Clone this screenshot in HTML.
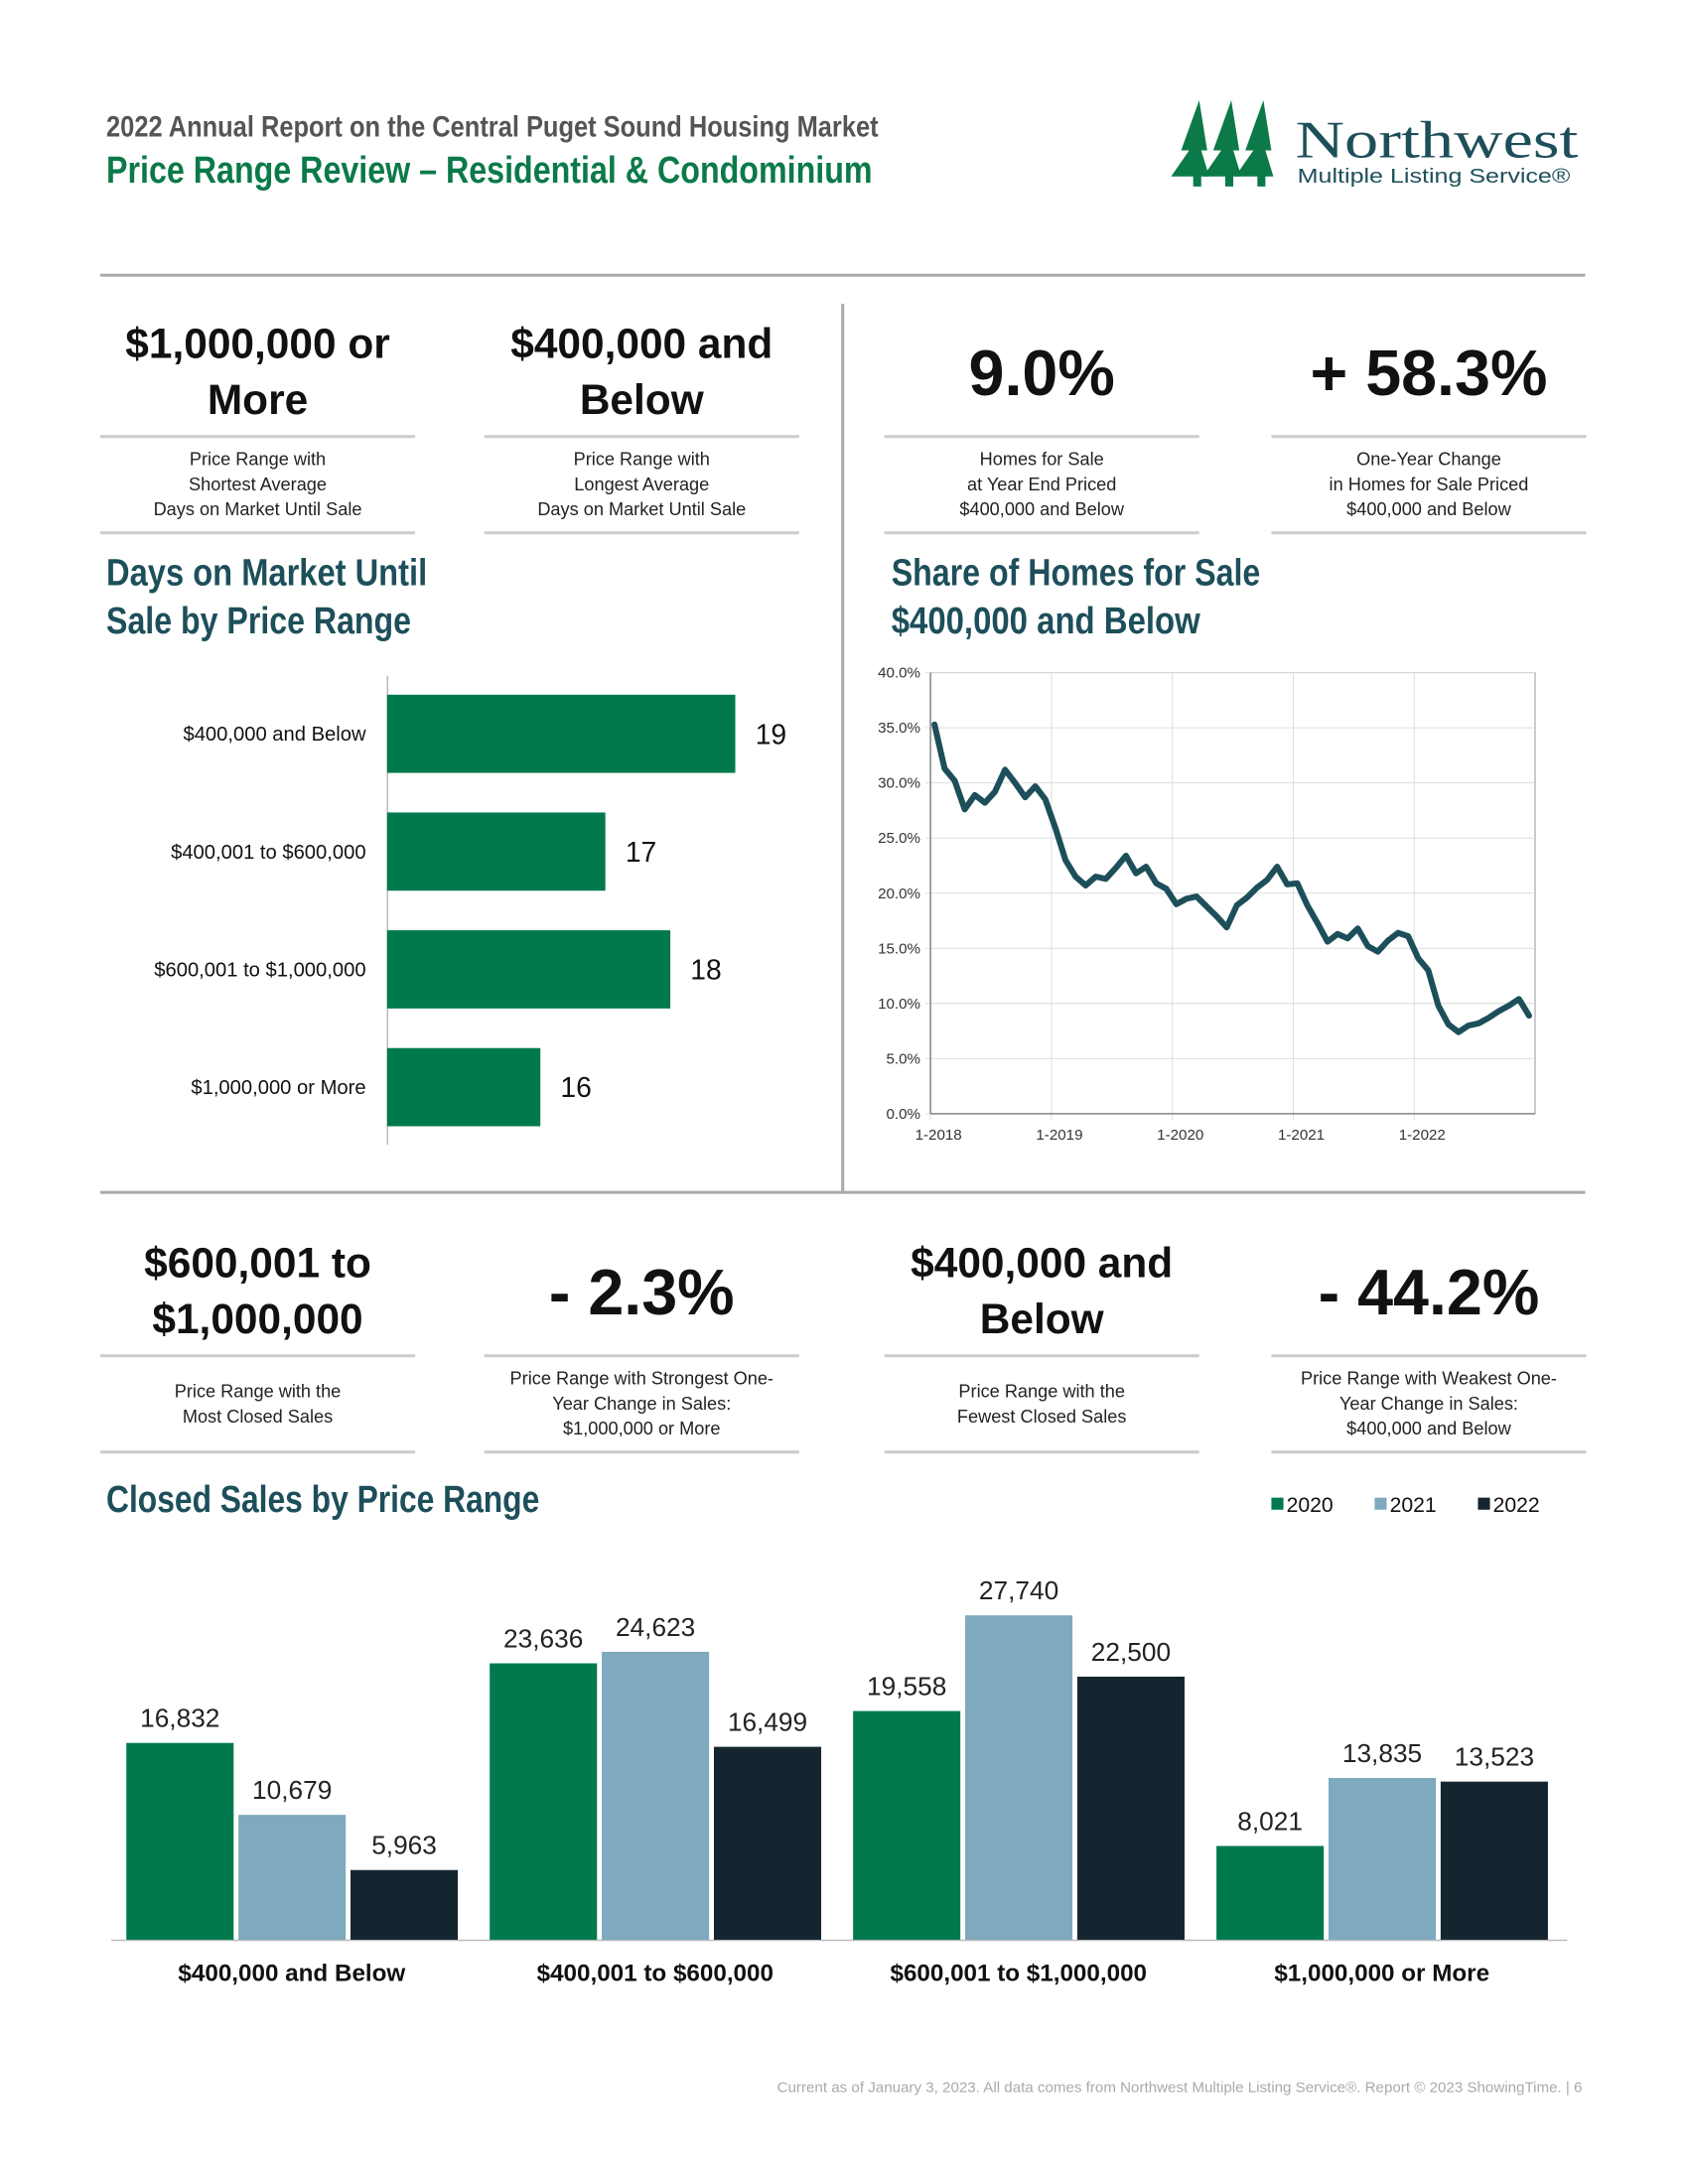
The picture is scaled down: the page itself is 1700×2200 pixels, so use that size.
<!DOCTYPE html>
<html><head><meta charset="utf-8"><style>
body{margin:0;background:#fff}
svg{display:block}
text{font-family:"Liberation Sans",sans-serif}
</style></head><body>
<svg id="page" width="1700" height="2200" viewBox="0 0 1700 2200" xmlns="http://www.w3.org/2000/svg">
<rect width="1700" height="2200" fill="#fff"/>
<g transform="scale(1.0098)">
<!-- header -->
<text x="106" y="136" font-size="29" font-weight="bold" fill="#555" textLength="770" lengthAdjust="spacingAndGlyphs">2022 Annual Report on the Central Puget Sound Housing Market</text>
<text x="106" y="182" font-size="38" font-weight="bold" fill="#0b7a48" textLength="764" lengthAdjust="spacingAndGlyphs">Price Range Review – Residential &amp; Condominium</text>
<g>
 <g fill="#0b7a48">
  <polygon points="1196,100 1178,150 1186,150 1168,176 1190,176 1190,186 1198,186 1198,176 1206,176 1198,150 1204,150"/>
  <polygon points="1228,100 1210,150 1218,150 1200,176 1222,176 1222,186 1230,186 1230,176 1238,176 1230,150 1236,150"/>
  <polygon points="1260,100 1242,150 1250,150 1232,176 1254,176 1254,186 1262,186 1262,176 1270,176 1262,150 1268,150"/>
 </g>
 <text x="1292" y="157" style="font-family:'Liberation Serif',serif" font-size="52" fill="#1d4f5a" textLength="282" lengthAdjust="spacingAndGlyphs">Northwest</text>
 <text x="1294" y="182" font-size="20" fill="#1d4f5a" textLength="272" lengthAdjust="spacingAndGlyphs">Multiple Listing Service®</text>
</g>
<rect x="100" y="273" width="1481" height="3" fill="#aaa"/>
<rect x="839" y="303" width="3" height="886" fill="#aaa"/>
<rect x="100" y="1188" width="1481" height="3" fill="#aaa"/>
<g id="stats"></g>
<!-- section titles -->
<text x="106" y="584" font-size="38" font-weight="bold" fill="#1d4f5a" textLength="320" lengthAdjust="spacingAndGlyphs">Days on Market Until</text>
<text x="106" y="632" font-size="38" font-weight="bold" fill="#1d4f5a" textLength="304" lengthAdjust="spacingAndGlyphs">Sale by Price Range</text>
<text x="889" y="584" font-size="38" font-weight="bold" fill="#1d4f5a" textLength="368" lengthAdjust="spacingAndGlyphs">Share of Homes for Sale</text>
<text x="889" y="632" font-size="38" font-weight="bold" fill="#1d4f5a" textLength="308" lengthAdjust="spacingAndGlyphs">$400,000 and Below</text>
<text x="106" y="1508" font-size="38" font-weight="bold" fill="#1d4f5a" textLength="432" lengthAdjust="spacingAndGlyphs">Closed Sales by Price Range</text>
<g id="dom"></g>
<g id="share"></g>
<g id="sales"></g>
<text x="1578" y="2087" font-size="15" fill="#aaa" text-anchor="end">Current as of January 3, 2023. All data comes from Northwest Multiple Listing Service®. Report © 2023 ShowingTime.  |  6</text>
</g>
</svg>
<script>
// ---- data ----
const domCategories = ["$400,000 and Below","$400,001 to $600,000","$600,001 to $1,000,000","$1,000,000 or More"];
const domValues = [19,17,18,16];
const shareTickLabels = ["0.0%","5.0%","10.0%","15.0%","20.0%","25.0%","30.0%","35.0%","40.0%"];
const shareYearLabels = ["1-2018","1-2019","1-2020","1-2021","1-2022"];
const shareValues = [35.3,31.3,30.2,27.6,28.9,28.2,29.2,31.2,30.0,28.7,29.7,28.5,25.9,23.0,21.5,20.7,21.5,21.3,22.3,23.4,21.8,22.4,20.9,20.4,19.0,19.5,19.7,18.8,17.9,16.9,18.9,19.6,20.5,21.2,22.4,20.8,20.9,18.9,17.3,15.6,16.3,15.9,16.8,15.2,14.7,15.7,16.4,16.1,14.1,13.0,9.8,8.1,7.4,8.0,8.2,8.7,9.3,9.8,10.4,8.9];
const salesCategories = ["$400,000 and Below","$400,001 to $600,000","$600,001 to $1,000,000","$1,000,000 or More"];
const salesYears = ["2020","2021","2022"];
const sales2020 = [16832,23636,19558,8021];
const sales2021 = [10679,24623,27740,13835];
const sales2022 = [5963,16499,22500,13523];

const NS="http://www.w3.org/2000/svg";
function mk(parent,tag,attrs,txt){const e=document.createElementNS(NS,tag);for(const k in attrs)e.setAttribute(k,attrs[k]);if(txt!==undefined)e.textContent=txt;parent.appendChild(e);return e;}

// ---- stat boxes ----
const stats=document.getElementById('stats');
const statBoxes=[
 {cx:257,y0:275,big:["$1,000,000 or","More"],small:["Price Range with","Shortest Average","Days on Market Until Sale"]},
 {cx:640,y0:275,big:["$400,000 and","Below"],small:["Price Range with","Longest Average","Days on Market Until Sale"]},
 {cx:1039,y0:275,big:["9.0%"],small:["Homes for Sale","at Year End Priced","$400,000 and Below"]},
 {cx:1425,y0:275,big:["+ 58.3%"],small:["One-Year Change","in Homes for Sale Priced","$400,000 and Below"]},
 {cx:257,y0:1192,big:["$600,001 to","$1,000,000"],small:["Price Range with the","Most Closed Sales"]},
 {cx:640,y0:1192,big:["- 2.3%"],small:["Price Range with Strongest One-","Year Change in Sales:","$1,000,000 or More"]},
 {cx:1039,y0:1192,big:["$400,000 and","Below"],small:["Price Range with the","Fewest Closed Sales"]},
 {cx:1425,y0:1192,big:["- 44.2%"],small:["Price Range with Weakest One-","Year Change in Sales:","$400,000 and Below"]}
];
statBoxes.forEach((b,i)=>{
 const g=mk(stats,'g',{});
 
 
 const base=b.y0===275?0:917;
 mk(g,'rect',{x:b.cx-157,y:434+base,width:314,height:3,fill:'#ccc'});
 mk(g,'rect',{x:b.cx-157,y:530+base,width:314,height:3,fill:'#ccc'});
 if(b.big.length===2){
  mk(g,'text',{x:b.cx,y:357+base,'font-size':42,'font-weight':'bold','text-anchor':'middle',fill:'#111'},b.big[0]);
  mk(g,'text',{x:b.cx,y:413+base,'font-size':42,'font-weight':'bold','text-anchor':'middle',fill:'#111'},b.big[1]);
 } else {
  mk(g,'text',{x:b.cx,y:394+base,'font-size':64,'font-weight':'bold','text-anchor':'middle',fill:'#111'},b.big[0]);
 }
 const n=b.small.length;const sy=(n===3?464:477)+base;
 b.small.forEach((s,j)=>mk(g,'text',{x:b.cx,y:sy+j*25,'font-size':18,'text-anchor':'middle',fill:'#222'},s));
});

// ---- days on market bar chart ----
const dom=document.getElementById('dom');
const domX0=386, domMin=13.64, domPx=64.8;
const domX=v=>domX0+(v-domMin)*domPx;
mk(dom,'line',{x1:386.5,y1:674,x2:386.5,y2:1142,stroke:'#bbb','stroke-width':1.5});
domValues.forEach((v,i)=>{
 const y=693+i*117.5;
 const r=mk(dom,'rect',{x:domX0,y:y,width:domX(v)-domX0,height:78,fill:'#007a4d'});
 
 
 mk(dom,'text',{x:domX(v)+20,y:y+49,'font-size':28,fill:'#111'},String(v));
 const t=mk(dom,'text',{x:365,y:y+46,'font-size':20,'text-anchor':'end',fill:'#111'},domCategories[i]);
 
 
});

// ---- share line chart ----
const sh=document.getElementById('share');
const pL=928,pR=1531,pT=671,pB=1111;
const sx=m=>pL+(pR-pL)*m/60;
const sy=v=>pB-(pB-pT)*v/40;
mk(sh,'rect',{x:pL,y:pT,width:pR-pL,height:pB-pT,fill:'#fff',stroke:'#999','stroke-width':1});
shareTickLabels.forEach((l,i)=>{
 const v=i*5;
 mk(sh,'line',{x1:pL-5,x2:pR,y1:sy(v),y2:sy(v),stroke:'#ddd','stroke-width':1});
 mk(sh,'text',{x:918,y:sy(v)+5,'font-size':15,'text-anchor':'end',fill:'#333'},l);
});
shareYearLabels.forEach((l,i)=>{
 const x=sx(i*12);
 mk(sh,'line',{x1:x,x2:x,y1:pT,y2:pB+6,stroke:'#ddd','stroke-width':1});
 mk(sh,'text',{x:x+8,y:1137,'font-size':15,'text-anchor':'middle',fill:'#333'},l);
});
mk(sh,'line',{x1:pL,x2:pR,y1:pB,y2:pB,stroke:'#888','stroke-width':1.5});
mk(sh,'line',{x1:pL,x2:pL,y1:pT,y2:pB,stroke:'#888','stroke-width':1.5});
const pts=shareValues.map((v,i)=>sx(i+0.4)+','+sy(v)).join(' ');
const pl=mk(sh,'polyline',{points:pts,fill:'none',stroke:'#1d4f5a','stroke-width':6,'stroke-linejoin':'round','stroke-linecap':'round'});



// ---- closed sales grouped bars ----
const sa=document.getElementById('sales');
const base=1935, vs=323.6/27740;
const bh=v=>v*vs;
const colors=['#007a4d','#7ea9be','#14252f'];
const series=[sales2020,sales2021,sales2022];
mk(sa,'line',{x1:111,x2:1563,y1:base+0.5,y2:base+0.5,stroke:'#bbb','stroke-width':1.5});
salesCategories.forEach((c,g)=>{
 const gx=126+g*362.4;
 series.forEach((s,k)=>{
  const x=gx+k*111.8, h=bh(s[g]);
  const r=mk(sa,'rect',{x:x,y:base-h,width:107,height:h,fill:colors[k]});
  
  
  mk(sa,'text',{x:x+53.5,y:base-h-16,'font-size':26,'text-anchor':'middle',fill:'#222'},s[g].toLocaleString('en-US'));
 });
 const t=mk(sa,'text',{x:gx+165,y:1976,'font-size':24,'font-weight':'bold','text-anchor':'middle',fill:'#111'},c);
 
 
});
salesYears.forEach((y,k)=>{
 const lx=1268+k*103;
 const g=mk(sa,'g',{});
 
 
 mk(g,'rect',{x:lx,y:1494,width:12,height:12,fill:colors[k]});
 mk(g,'text',{x:lx+15,y:1508,'font-size':21,fill:'#111'},y);
});
</script>
</body></html>
